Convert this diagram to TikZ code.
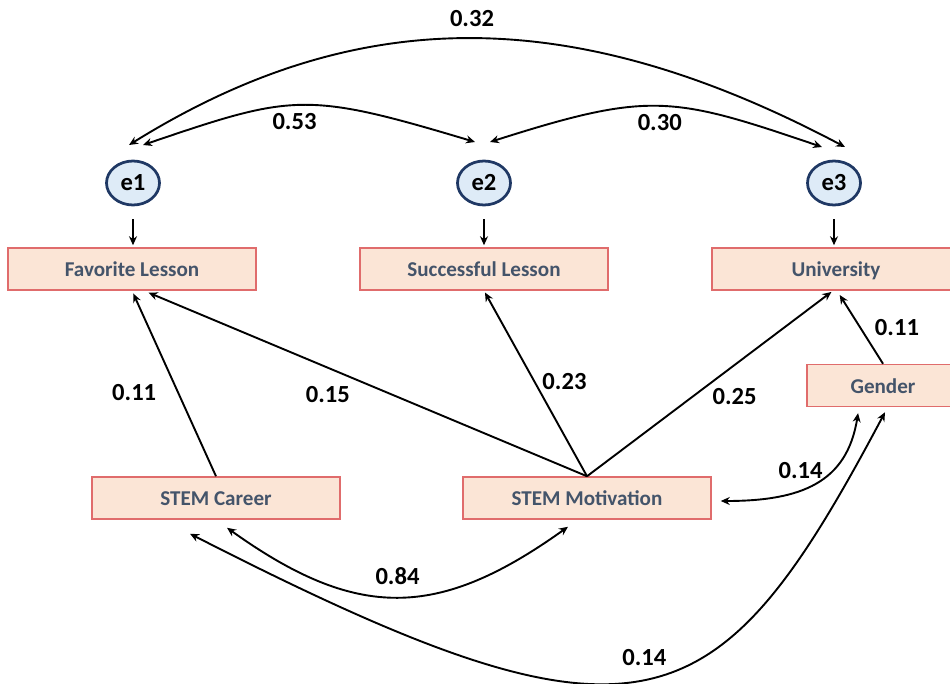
\documentclass[tikz,border=0pt]{standalone}
\usepackage{fontspec}
\setmainfont{Carlito}
\usepackage{tikz}
\usetikzlibrary{arrows.meta,shapes.geometric,calc}
\definecolor{boxfill}{HTML}{FBE5D6}
\definecolor{boxline}{HTML}{E06C6C}
\definecolor{boxtext}{HTML}{44546A}
\definecolor{errfill}{HTML}{DEEBF7}
\definecolor{errline}{HTML}{1F3864}

\begin{document}
\begin{tikzpicture}[x=0.2mm, y=0.2mm,
  var/.style={draw=boxline, line width=0.3mm, fill=boxfill, minimum width=49.6mm, minimum height=8.4mm,
    text height=1.8ex, text depth=0pt, text=boxtext, font=\fontsize{12}{14}\selectfont\bfseries},
  err/.style={ellipse, draw=errline, line width=0.55mm, fill=errfill, minimum width=10.6mm,
    minimum height=8.8mm, inner sep=0pt, font=\fontsize{14}{16}\selectfont\bfseries},
  reg/.style={-{Stealth[length=1.8mm,width=1.6mm]}, line width=0.38mm},
  cov/.style={{Stealth[length=1.8mm,width=1.6mm]}-{Stealth[length=1.8mm,width=1.6mm]}, line width=0.38mm},
  lbl/.style={font=\fontsize{14}{16}\selectfont\bfseries, inner sep=1pt}]
  \useasboundingbox (0,0) rectangle (950,683);

  % Error terms
  \node[err] (e1) at (133,500) {e1};
  \node[err] (e2) at (484,500) {e2};
  \node[err] (e3) at (834,500) {e3};

  % Observed variables
  \node[var] (fav) at (132,414) {Favorite Lesson};
  \node[var] (succ) at (484,414) {Successful Lesson};
  \node[var] (univ) at (836,414) {University};
  \node[var, minimum width=30.4mm] (gender) at (883,297.5) {Gender};
  \node[var] (career) at (216,185) {STEM Career};
  \node[var] (motiv) at (587,185) {STEM Motivation};

  % Errors to outcomes
  \draw[reg, shorten <=2.6mm, shorten >=0.4mm] (e1.south) -- (e1.south |- fav.north);
  \draw[reg, shorten <=2.6mm, shorten >=0.4mm] (e2.south) -- (e2.south |- succ.north);
  \draw[reg, shorten <=2.6mm, shorten >=0.4mm] (e3.south) -- (e3.south |- univ.north);

  % Correlated errors
  \draw[cov] ([shift={(-4,38)}]e1.center) .. controls +(230,143) and +(-270,143) .. ([shift={(11,36)}]e3.center)
    node[lbl, midway, yshift=4mm] {0.32};
  \draw[cov] ([shift={(10,38)}]e1.center) .. controls +(150,51) and +(-170,51) .. ([shift={(-9,41)}]e2.center)
    node[lbl, midway, xshift=-1.4mm, yshift=-3.2mm] {0.53};
  \draw[cov] ([shift={(6,41)}]e2.center) .. controls +(160,51) and +(-150,51) .. ([shift={(-12,36)}]e3.center)
    node[lbl, midway, yshift=-3.2mm] {0.30};

  % Paths
  \draw[reg, shorten >=0.6mm] (career.north) -- (fav.south)
    node[lbl, pos=0.45, xshift=-8.8mm] {0.11};
  \draw[reg, shorten >=1mm] (motiv.north) -- ([xshift=2.4mm]fav.south)
    node[lbl, pos=0.585, yshift=-5.4mm] {0.15};
  \draw[reg, shorten >=0.4mm] (motiv.north) -- (succ.south)
    node[lbl, pos=0.51, xshift=6mm] {0.23};
  \draw[reg, shorten >=0.4mm] (motiv.north) -- ([xshift=-0.6mm]univ.south)
    node[lbl, pos=0.6, yshift=-6.4mm] {0.25};
  \draw[reg, shorten >=1mm] (gender.north) -- ([xshift=0.2mm]univ.south)
    node[lbl, pos=0.49, xshift=7.3mm] {0.11};

  % Covariances of exogenous variables
  \draw[cov, shorten <=1.8mm, shorten >=1.2mm] ([yshift=-0.6mm]motiv.east) .. controls +(90,0) and +(-12,-75) .. ([xshift=-4.8mm]gender.south)
    node[lbl, midway, xshift=-2.8mm, yshift=2.4mm] {0.14};
  \draw[cov] ([shift={(11,-8)}]career.south) .. controls +(130,-93) and +(-130,-93) .. ([shift={(-19,-7)}]motiv.south)
    node[lbl, midway, yshift=4.2mm] {0.84};
  \draw[cov] ([shift={(-26,-14)}]career.south) .. controls +(454,-232) and +(-169,-318) .. ([shift={(2,-5)}]gender.south)
    node[lbl, midway, yshift=4.4mm] {0.14};
\end{tikzpicture}
\end{document}
